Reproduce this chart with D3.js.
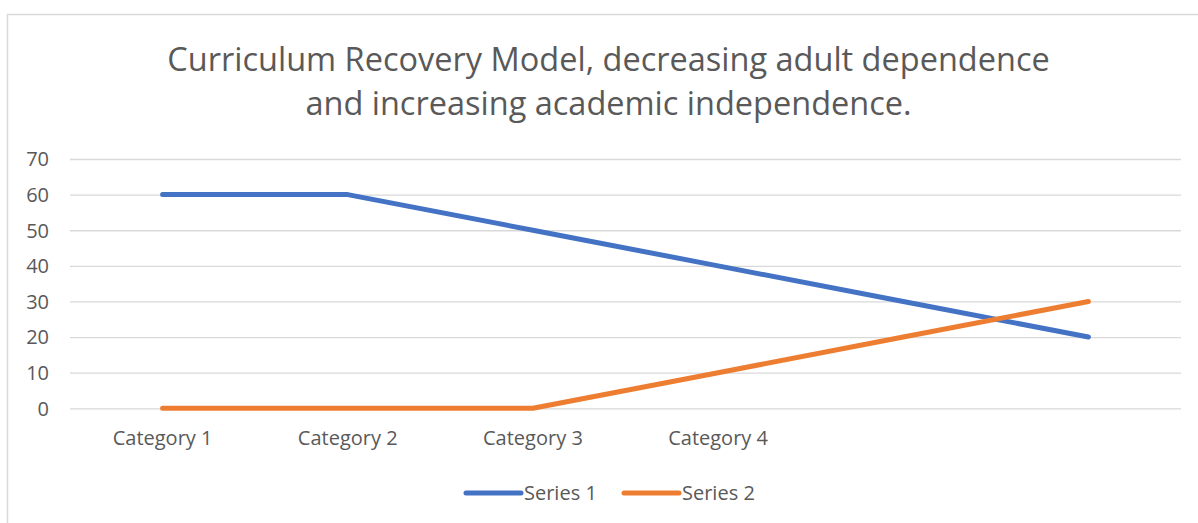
<!DOCTYPE html>
<html><head><meta charset="utf-8">
<script src="https://cdn.jsdelivr.net/npm/d3@7"></script>
<style>body{margin:0;background:#fff;}svg{display:block;font-family:"Open Sans",sans-serif;}</style>
</head><body>
<svg id="c" width="1198" height="523"></svg>
<script>
const categories = ["Category 1","Category 2","Category 3","Category 4","",""];
const series1 = [60,60,50,40,30,20];
const series2 = [0,0,0,10,20,30];
const yTicks = [0,10,20,30,40,50,60,70];
const titleLines = ["Curriculum Recovery Model, decreasing adult dependence","and increasing academic independence."];
const seriesNames = ["Series 1","Series 2"];
const colors = ["#4472C4","#ED7D31"];

const svg = d3.select("#c");
svg.append("rect").attr("x",7.5).attr("y",14.5).attr("width",1300).attr("height",600)
  .attr("fill","#fff").attr("stroke","#D9D9D9").attr("stroke-width",1.5);

const x = d3.scaleBand().domain(d3.range(categories.length)).range([70,1181]);
const y = d3.scaleLinear().domain([0,70]).range([408.3,159]);

const title = svg.append("text").attr("text-anchor","middle").attr("fill","#595959").attr("font-size",32.5);
titleLines.forEach((t,i)=>title.append("tspan").attr("x",608.5).attr("y",71+i*44).text(t));

const fs = 20;
// grid
const gy = svg.append("g").attr("transform","translate(70,0)")
  .call(d3.axisLeft(y).tickValues(yTicks).tickSize(-1111).tickPadding(21));
gy.select(".domain").remove();
gy.selectAll(".tick line").attr("stroke","#D9D9D9").attr("stroke-width",1.3);
gy.selectAll(".tick text").attr("fill","#595959").attr("font-size",fs).attr("font-family","Open Sans").attr("dy","0.34em");

const gx = svg.append("g").attr("transform","translate(0,408.3)")
  .call(d3.axisBottom(x).tickFormat(i=>categories[i]).tickSize(0).tickPadding(23));
gx.select(".domain").remove();
gx.selectAll(".tick text").attr("fill","#595959").attr("font-size",fs).attr("font-family","Open Sans");

const line = d3.line().x((d,i)=>x(i)+x.bandwidth()/2).y(d=>y(d));
[series1,series2].forEach((s,k)=>{
  svg.append("path").datum(s).attr("d",line).attr("fill","none")
    .attr("stroke",colors[k]).attr("stroke-width",5).attr("stroke-linecap","round").attr("stroke-linejoin","round");
});

// legend
const lg = svg.append("g");
const legX = [466,624];
seriesNames.forEach((n,k)=>{
  lg.append("line").attr("x1",legX[k]).attr("x2",legX[k]+55).attr("y1",493).attr("y2",493)
    .attr("stroke",colors[k]).attr("stroke-width",5).attr("stroke-linecap","round");
  lg.append("text").attr("x",legX[k]+58).attr("y",493).attr("dy","0.36em").attr("fill","#595959")
    .attr("font-size",fs).text(n);
});
</script>
</body></html>
